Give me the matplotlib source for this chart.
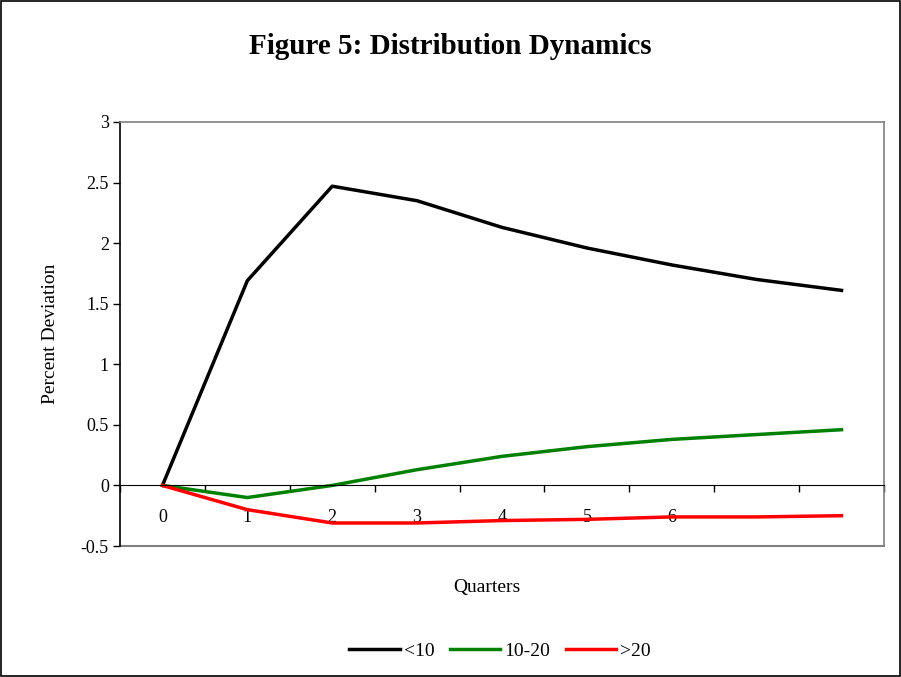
import numpy as np
import matplotlib.pyplot as plt
from matplotlib.patches import Rectangle

quarters = [0, 1, 2, 3, 4, 5, 6, 7, 8]
tick_labels = ['0', '1', '2', '3', '4', '5', '6', '', '']
below10 = [0, 1.69, 2.47, 2.35, 2.13, 1.96, 1.82, 1.70, 1.61]
mid10_20 = [0, -0.10, 0.0, 0.13, 0.24, 0.32, 0.38, 0.42, 0.46]
above20 = [0, -0.20, -0.31, -0.31, -0.29, -0.28, -0.26, -0.26, -0.25]

plt.rcParams['font.family'] = ['Liberation Serif', 'DejaVu Serif']

fig = plt.figure(figsize=(9.01, 6.77), dpi=100)
fig.patches.append(Rectangle((0.001, 0.001), 0.998, 0.997, transform=fig.transFigure,
                             fill=False, edgecolor='black', linewidth=1.2))
ax = fig.add_axes([0.1332, 0.1935, 0.8479, 0.6263])

ax.plot(quarters, below10, color='black', lw=2.5, label='<10')
ax.plot(quarters, mid10_20, color='#008000', lw=2.5, label='10-20')
ax.plot(quarters, above20, color='#ff0000', lw=2.5, label='>20')

ax.set_xlim(-0.5, 8.5)
ax.set_ylim(-0.5, 3)
ax.set_yticks([-0.5, 0, 0.5, 1, 1.5, 2, 2.5, 3])
ax.set_yticklabels(['-0.5', '0', '0.5', '1', '1.5', '2', '2.5', '3'])
ax.tick_params(axis='y', direction='out', length=5, width=1, labelsize=13, pad=3)

ax.spines['bottom'].set_position(('data', 0))
ax.spines['bottom'].set_color('black')
ax.spines['left'].set_color('black')
ax.spines['left'].set_linewidth(1.2)
for s in ['top', 'right']:
    ax.spines[s].set_color('#808080')
    ax.spines[s].set_linewidth(1.2)
ax.axhline(-0.5, color='#808080', lw=1.5, clip_on=False)

ax.set_xticks(quarters)
ax.set_xticklabels(tick_labels)
ax.set_xticks(np.arange(-0.5, 9, 1), minor=True)
ax.tick_params(axis='x', which='major', length=0, labelsize=13, pad=17)
ax.tick_params(axis='x', which='minor', direction='out', length=5, width=1)

ax.set_ylabel('Percent Deviation', fontsize=14, labelpad=16)
fig.text(0.5405, 0.132, 'Quarters', ha='center', va='center', fontsize=14)
fig.text(0.5, 0.932, 'Figure 5: Distribution Dynamics', ha='center', va='center',
         fontsize=21, fontweight='bold')

fig.legend(loc='center', bbox_to_anchor=(0.555, 0.038), ncol=3, frameon=False,
           fontsize=14, handlelength=2.6, handletextpad=0.2, columnspacing=0.8)

fig.savefig('out.png', dpi=100)
